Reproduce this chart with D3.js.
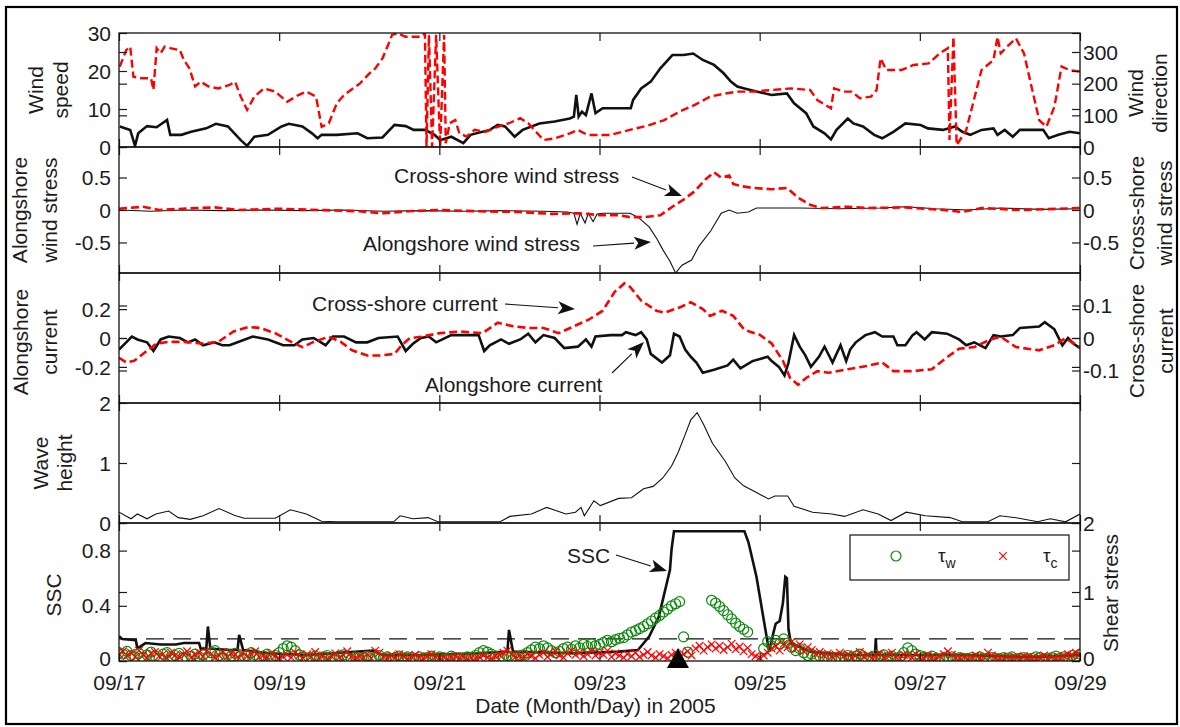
<!DOCTYPE html>
<html><head><meta charset="utf-8">
<script src="https://cdn.jsdelivr.net/npm/d3@7"></script>
<style>
body{margin:0;background:#fff}
text{font-family:"Liberation Sans",Arial,sans-serif;fill:#1c1c1c}
.tk text{font-size:21px;font-family:"Liberation Sans",Arial,sans-serif;fill:#1c1c1c}
.tk line{stroke:#1c1c1c;stroke-width:1.2}
</style>
</head><body>
<svg id="c" width="1180" height="727"></svg>
<script>
// ---- Time axis (day of September 2005) ----
const dateTicks = [17, 19, 21, 23, 25, 27, 29];
const dateLabels = ["09/17", "09/19", "09/21", "09/23", "09/25", "09/27", "09/29"];

// ---- Panel 1: wind speed (m/s) and wind direction (deg) ----
const windSpeed = [[17.01,5.4],[17.14,4.5],[17.20,0.3],[17.24,3.6],[17.35,5.5],[17.47,5.2],[17.60,7.1],[17.64,3.2],[17.78,3.2],[17.90,4.0],[18.09,4.9],[18.21,6.1],[18.36,5.4],[18.52,1.8],[18.60,0.3],[18.69,2.7],[18.86,3.2],[19.03,5.4],[19.12,6.1],[19.29,5.4],[19.41,3.6],[19.48,2.3],[19.53,3.2],[19.72,3.2],[19.98,3.6],[20.10,2.3],[20.29,2.5],[20.44,5.8],[20.58,5.5],[20.68,4.5],[20.82,4.5],[20.94,3.2],[21.01,1.8],[21.15,2.7],[21.30,1.0],[21.39,3.2],[21.63,4.5],[21.73,5.8],[21.82,5.4],[21.94,2.7],[22.04,4.5],[22.25,6.2],[22.44,6.7],[22.63,7.5],[22.68,8.0],[22.71,13.7],[22.74,8.0],[22.78,9.3],[22.83,8.4],[22.90,14.1],[22.95,8.9],[23.04,10.2],[23.39,10.2],[23.42,12.4],[23.52,15.4],[23.64,17.2],[23.76,20.7],[23.91,24.2],[24.05,24.2],[24.17,24.6],[24.29,22.9],[24.43,21.6],[24.55,19.4],[24.64,17.2],[24.72,15.9],[24.81,15.4],[24.96,14.6],[25.15,13.7],[25.34,14.1],[25.43,11.5],[25.58,8.9],[25.67,5.4],[25.81,3.6],[25.89,2.0],[25.96,4.5],[26.10,7.5],[26.17,6.2],[26.29,5.4],[26.43,3.2],[26.53,2.3],[26.67,4.0],[26.82,6.2],[27.01,5.8],[27.10,4.9],[27.29,4.5],[27.44,5.4],[27.53,4.0],[27.63,3.2],[27.77,4.5],[27.92,4.9],[27.97,3.2],[28.06,4.5],[28.16,2.7],[28.25,4.5],[28.54,4.5],[28.61,2.3],[28.73,3.2],[28.87,4.0],[29.0,3.6]];
const windDir = [[17.01,254],[17.09,306],[17.14,317],[17.18,222],[17.28,217],[17.40,217],[17.43,180],[17.47,312],[17.52,296],[17.57,317],[17.64,312],[17.76,306],[17.81,275],[17.88,248],[17.95,191],[18.02,206],[18.12,191],[18.24,185],[18.38,196],[18.45,206],[18.52,159],[18.60,117],[18.69,159],[18.81,185],[18.95,175],[19.10,143],[19.24,164],[19.34,175],[19.46,159],[19.53,64],[19.62,75],[19.72,138],[19.81,164],[20.01,201],[20.13,233],[20.20,248],[20.29,280],[20.36,322],[20.41,354],[20.48,359],[20.58,348],[20.77,348],[20.82,359],[20.84,1],[20.87,354],[20.91,1],[20.96,354],[21.01,1],[21.06,354],[21.08,12],[21.13,75],[21.20,85],[21.25,43],[21.34,33],[21.44,54],[21.58,48],[21.73,64],[21.87,75],[22.01,91],[22.11,75],[22.30,22],[22.44,27],[22.63,43],[22.73,54],[22.85,38],[23.00,38],[23.14,38],[23.28,48],[23.38,54],[23.62,69],[23.81,85],[24.00,112],[24.19,133],[24.38,159],[24.57,169],[24.72,175],[24.91,175],[25.15,180],[25.39,185],[25.63,180],[25.72,148],[25.89,122],[25.93,185],[26.05,175],[26.15,175],[26.25,154],[26.39,159],[26.46,180],[26.51,280],[26.58,243],[26.77,243],[26.92,259],[27.11,264],[27.25,296],[27.35,312],[27.37,22],[27.42,348],[27.46,6],[27.58,54],[27.77,243],[27.92,275],[27.97,348],[28.01,296],[28.11,322],[28.20,343],[28.30,296],[28.49,85],[28.58,64],[28.68,127],[28.77,254],[28.87,243],[29.0,238]];
const speedTicks = [0, 10, 20, 30];
const dirTicks = [0, 100, 200, 300];

// ---- Panel 2: wind stress ----
const alongWindStress = [[17.0,0.0],[17.4,-0.02],[17.8,0.0],[18.3,-0.01],[18.8,0.0],[19.3,-0.01],[19.8,0.0],[20.3,-0.02],[20.8,-0.01],[21.3,-0.02],[21.8,-0.01],[22.3,-0.02],[22.6,-0.03],[22.68,-0.05],[22.72,-0.22],[22.76,-0.05],[22.82,-0.20],[22.86,-0.05],[22.92,-0.18],[22.97,-0.06],[23.04,-0.05],[23.38,-0.05],[23.48,-0.11],[23.62,-0.26],[23.72,-0.45],[23.79,-0.61],[23.88,-0.79],[23.95,-0.97],[24.03,-0.85],[24.15,-0.77],[24.24,-0.56],[24.39,-0.32],[24.52,-0.05],[24.62,0.0],[24.72,-0.05],[24.86,-0.03],[24.96,0.03],[25.5,0.03],[26.0,0.02],[26.5,0.03],[26.82,0.05],[27.2,0.02],[27.6,0.0],[28.0,0.03],[28.5,0.01],[29.0,0.02]];
const crossWindStress = [[17.0,0.02],[17.3,0.05],[17.5,0.0],[17.8,0.02],[18.2,0.04],[18.5,0.0],[19.0,0.02],[19.5,0.0],[20.0,-0.02],[20.3,-0.05],[20.6,-0.02],[21.0,0.0],[21.5,-0.02],[22.0,-0.03],[22.4,-0.06],[22.76,-0.05],[23.00,-0.08],[23.24,-0.08],[23.38,-0.11],[23.57,-0.11],[23.76,-0.08],[23.91,0.05],[24.05,0.16],[24.19,0.29],[24.33,0.48],[24.43,0.58],[24.52,0.50],[24.62,0.53],[24.67,0.40],[24.76,0.37],[24.91,0.34],[25.15,0.32],[25.34,0.34],[25.48,0.19],[25.63,0.08],[25.77,0.03],[26.10,0.05],[26.34,0.03],[26.82,0.04],[27.29,0.0],[27.53,-0.03],[27.77,0.03],[28.25,0.0],[29.0,0.03]];
const stressTicks = [-0.5, 0, 0.5];

// ---- Panel 3: currents ----
const alongCurrent = [[17.0,-0.08],[17.09,-0.03],[17.16,0.01],[17.23,-0.01],[17.35,-0.03],[17.43,-0.09],[17.52,-0.01],[17.62,0.01],[17.76,0.0],[17.86,-0.03],[17.95,-0.01],[18.05,-0.05],[18.19,-0.03],[18.29,-0.05],[18.38,-0.05],[18.48,-0.03],[18.67,0.01],[18.86,-0.01],[19.05,-0.05],[19.19,-0.05],[19.29,-0.01],[19.43,0.0],[19.58,-0.05],[19.67,0.01],[19.81,0.01],[19.96,-0.03],[20.10,-0.03],[20.24,0.0],[20.48,0.01],[20.58,-0.09],[20.67,-0.04],[20.77,0.0],[20.87,0.01],[20.96,-0.03],[21.15,0.02],[21.49,0.02],[21.56,-0.09],[21.63,-0.05],[21.77,-0.01],[21.87,-0.04],[22.01,-0.01],[22.11,0.03],[22.20,-0.03],[22.30,0.02],[22.44,0.0],[22.56,-0.07],[22.73,-0.06],[22.83,-0.01],[22.90,-0.06],[22.95,0.01],[23.14,0.02],[23.28,0.02],[23.33,0.04],[23.45,0.02],[23.52,0.04],[23.59,-0.01],[23.64,-0.11],[23.78,-0.17],[23.88,-0.12],[23.93,0.03],[24.00,0.01],[24.07,-0.08],[24.14,-0.13],[24.21,-0.17],[24.29,-0.24],[24.43,-0.22],[24.60,-0.19],[24.67,-0.15],[24.76,-0.21],[24.91,-0.16],[25.10,-0.13],[25.15,-0.16],[25.24,-0.20],[25.31,-0.26],[25.36,-0.17],[25.43,0.02],[25.50,-0.06],[25.57,-0.12],[25.64,-0.20],[25.74,-0.13],[25.81,-0.06],[25.91,-0.17],[26.01,-0.05],[26.08,-0.16],[26.13,-0.08],[26.20,-0.03],[26.32,0.02],[26.44,0.04],[26.53,0.01],[26.67,0.01],[26.72,-0.05],[26.82,-0.05],[26.91,0.02],[26.96,0.04],[27.06,-0.01],[27.15,0.04],[27.34,0.03],[27.49,-0.01],[27.58,-0.05],[27.68,-0.03],[27.82,-0.07],[27.92,0.02],[28.01,0.01],[28.16,0.02],[28.25,0.07],[28.49,0.08],[28.56,0.11],[28.68,0.06],[28.78,-0.05],[28.85,0.0],[28.92,-0.04],[29.0,-0.07]];
const crossCurrent = [[17.0,-0.061],[17.09,-0.075],[17.19,-0.07],[17.33,-0.043],[17.47,-0.017],[17.62,-0.012],[17.81,-0.012],[18.05,-0.017],[18.24,-0.012],[18.43,0.02],[18.62,0.034],[18.76,0.031],[18.95,0.015],[19.15,-0.012],[19.29,-0.028],[19.43,-0.012],[19.62,0.004],[19.77,-0.012],[19.91,-0.038],[20.10,-0.054],[20.25,-0.054],[20.44,-0.049],[20.53,-0.022],[20.63,-0.001],[20.77,0.004],[21.01,0.015],[21.25,0.02],[21.54,0.015],[21.73,0.047],[21.92,0.036],[22.11,0.031],[22.30,0.031],[22.49,0.015],[22.68,0.036],[22.87,0.057],[23.04,0.084],[23.19,0.142],[23.31,0.168],[23.38,0.158],[23.52,0.115],[23.71,0.084],[23.81,0.078],[24.00,0.094],[24.14,0.11],[24.29,0.089],[24.38,0.068],[24.53,0.084],[24.67,0.068],[24.81,0.025],[25.00,0.01],[25.15,-0.017],[25.29,-0.07],[25.38,-0.123],[25.48,-0.144],[25.58,-0.123],[25.72,-0.102],[25.86,-0.107],[26.10,-0.096],[26.34,-0.086],[26.53,-0.075],[26.67,-0.102],[26.91,-0.102],[27.15,-0.096],[27.34,-0.059],[27.49,-0.033],[27.68,-0.028],[27.87,-0.006],[28.01,0.004],[28.20,-0.028],[28.49,-0.038],[28.68,-0.022],[28.82,-0.001],[29.0,-0.028]];
const alongCurTicks = [-0.2, 0, 0.2];
const crossCurTicks = [-0.1, 0, 0.1];

// ---- Panel 4: significant wave height (m) ----
const waveHeight = [[17.0,0.18],[17.15,0.07],[17.23,0.15],[17.35,0.07],[17.46,0.15],[17.62,0.2],[17.74,0.09],[17.89,0.06],[18.05,0.12],[18.25,0.24],[18.44,0.13],[18.56,0.08],[18.95,0.08],[19.14,0.22],[19.34,0.15],[19.53,0.03],[19.73,0.02],[20.43,0.02],[20.51,0.12],[20.67,0.07],[20.86,0.09],[20.98,0.02],[21.76,0.02],[21.88,0.11],[22.15,0.15],[22.34,0.26],[22.58,0.15],[22.70,0.18],[22.77,0.26],[22.81,0.12],[22.93,0.37],[23.01,0.29],[23.24,0.41],[23.40,0.42],[23.55,0.57],[23.67,0.61],[23.79,0.75],[23.90,0.95],[23.98,1.17],[24.06,1.44],[24.14,1.72],[24.22,1.84],[24.30,1.64],[24.41,1.33],[24.57,1.03],[24.69,0.75],[24.80,0.62],[24.96,0.51],[25.11,0.40],[25.19,0.45],[25.35,0.45],[25.43,0.28],[25.66,0.18],[25.90,0.15],[26.06,0.11],[26.29,0.22],[26.48,0.15],[26.64,0.04],[26.83,0.18],[27.07,0.12],[27.38,0.09],[27.53,0.02],[27.85,0.02],[28.00,0.12],[28.24,0.08],[28.47,0.02],[28.63,0.07],[28.82,0.02],[29.0,0.15]];
const waveTicks = [0, 1, 2];

// ---- Panel 5: suspended sediment concentration and bed shear stress ----
const ssc = [[17.0,0.18],[17.04,0.16],[17.21,0.15],[17.23,0.09],[17.33,0.13],[17.52,0.12],[17.71,0.12],[17.81,0.13],[18.0,0.13],[18.02,0.09],[18.09,0.09],[18.11,0.25],[18.14,0.09],[18.38,0.08],[18.48,0.08],[18.50,0.19],[18.55,0.08],[18.86,0.056],[19.34,0.044],[20.17,0.075],[20.29,0.044],[20.77,0.044],[21.49,0.056],[21.85,0.068],[21.87,0.225],[21.92,0.068],[22.68,0.056],[23.24,0.068],[23.48,0.08],[23.62,0.177],[23.74,0.32],[23.81,0.49],[23.88,0.66],[23.90,0.81],[23.93,0.94],[24.81,0.94],[24.86,0.86],[24.96,0.61],[25.10,0.13],[25.12,0.068],[25.17,0.2],[25.20,0.27],[25.25,0.29],[25.29,0.42],[25.32,0.61],[25.34,0.6],[25.36,0.23],[25.39,0.13],[25.63,0.068],[26.10,0.044],[26.44,0.044],[26.45,0.165],[26.46,0.044],[27.06,0.044],[27.53,0.044],[28.25,0.03],[28.49,0.03],[29.0,0.044]];
const sscThreshold = 0.16;
const sscTicks = [0, 0.4, 0.8];
const shearTicks = [0, 1, 2];
// shear stress samples, one every 0.05 day from 09/17 00:00
const tauStart = 17, tauStep = 0.05;
const tauWave = [
0.12,0.10,0.14,0.08,0.06,0.11,0.05,0.09,0.13,0.07,0.04,0.10,0.12,0.06,0.08,0.11,0.05,0.03,0.07,0.10,
0.06,0.09,0.04,0.12,0.15,0.08,0.05,0.10,0.07,0.11,0.06,0.04,0.08,0.12,0.09,0.05,0.07,0.10,0.06,0.08,
0.12,0.18,0.22,0.20,0.15,0.09,0.06,0.04,0.05,0.07,0.03,0.06,0.08,0.05,0.04,0.07,0.09,0.05,0.03,0.06,
0.05,0.04,0.07,0.03,0.05,0.08,0.04,0.06,0.03,0.05,0.07,0.04,0.06,0.05,0.03,0.06,0.04,0.05,0.07,0.04,
0.06,0.05,0.04,0.07,0.05,0.03,0.04,0.06,0.05,0.08,0.12,0.15,0.13,0.10,0.07,0.05,0.06,0.08,0.06,0.05,
0.07,0.09,0.12,0.16,0.20,0.18,0.22,0.19,0.15,0.12,0.14,0.18,0.20,0.17,0.22,0.19,0.24,0.21,0.25,0.22,
0.24,0.27,0.30,0.28,0.31,0.33,0.34,0.38,0.42,0.44,0.47,0.50,0.54,0.58,0.62,0.66,0.71,0.75,0.80,0.83,
0.86,0.35,0.13,null,null,null,null,null,0.88,0.84,0.79,0.73,0.67,0.61,0.55,0.50,0.46,0.42,null,null,
null,0.18,0.28,0.22,0.30,0.25,0.32,0.26,0.20,0.15,0.18,0.12,0.08,0.10,0.05,0.07,0.04,0.06,0.03,0.05,
0.04,0.06,0.08,0.05,0.07,0.10,0.06,0.04,0.05,0.08,0.06,0.09,0.05,0.07,0.04,0.06,0.12,0.19,0.15,0.10,
0.08,0.06,0.05,0.07,0.04,0.03,0.05,0.04,0.06,0.03,0.05,0.04,0.03,0.05,0.04,0.06,0.04,0.03,0.05,0.04,
0.03,0.05,0.04,0.06,0.03,0.04,0.05,0.03,0.04,0.06,0.05,0.03,0.04,0.05,0.07,0.04,0.06,0.05,0.08,0.06,
0.10];
const tauCurrent = [
0.10,0.14,0.08,0.12,0.06,0.15,0.09,0.05,0.11,0.13,0.07,0.10,0.04,0.12,0.08,0.06,0.10,0.14,0.05,0.09,
0.12,0.07,0.15,0.10,0.05,0.08,0.13,0.06,0.11,0.09,0.04,0.12,0.07,0.10,0.14,0.06,0.08,0.05,0.11,0.07,
0.04,0.06,0.09,0.05,0.12,0.08,0.04,0.10,0.06,0.13,0.05,0.08,0.03,0.07,0.11,0.05,0.09,0.14,0.06,0.04,
0.07,0.05,0.10,0.04,0.15,0.12,0.06,0.04,0.08,0.05,0.10,0.07,0.03,0.06,0.09,0.05,0.04,0.07,0.10,0.06,
0.04,0.06,0.03,0.05,0.07,0.04,0.06,0.03,0.05,0.04,0.06,0.08,0.05,0.04,0.07,0.09,0.12,0.15,0.10,0.06,
0.08,0.05,0.10,0.07,0.04,0.09,0.12,0.06,0.10,0.14,0.08,0.05,0.11,0.15,0.09,0.12,0.07,0.10,0.14,0.08,
0.12,0.09,0.15,0.06,0.11,0.08,0.05,0.10,0.07,0.12,0.06,0.09,0.13,0.08,0.05,0.10,0.07,0.04,0.09,0.12,
0.06,0.10,0.14,0.08,0.18,0.22,0.15,0.20,0.24,0.18,0.22,0.16,0.20,0.25,0.17,0.21,0.14,0.19,0.10,0.07,
0.05,0.08,0.12,0.18,0.22,0.15,0.25,0.20,0.28,0.18,0.24,0.14,0.20,0.16,0.10,0.13,0.08,0.11,0.06,0.09,
0.12,0.07,0.10,0.05,0.08,0.13,0.06,0.09,0.04,0.07,0.11,0.05,0.08,0.12,0.06,0.04,0.09,0.07,0.05,0.10,
0.06,0.04,0.08,0.05,0.03,0.07,0.10,0.14,0.09,0.05,0.04,0.06,0.03,0.05,0.08,0.04,0.06,0.12,0.08,0.05,
0.04,0.03,0.06,0.04,0.05,0.03,0.07,0.05,0.04,0.03,0.05,0.08,0.04,0.06,0.03,0.05,0.07,0.10,0.08,0.12,
0.09];
// sampling event marker
const eventDays = [23.98];

// ---- Layout ----
const X0 = 119, X1 = 1080;
const bands = [[33,147],[147,273],[273,403],[403,523],[523,661]];
const RED = "#ff0000", GREEN = "#0b8a0b", BLACK = "#111";

const svg = d3.select("#c");
svg.append("rect").attr("x",6).attr("y",7).attr("width",1171).attr("height",717)
   .attr("fill","#fff").attr("stroke","#000").attr("stroke-width",2.2);

const x = d3.scaleLinear().domain([17,29]).range([X0,X1]);

const defs = svg.append("defs");
bands.forEach((b,i) => {
  defs.append("clipPath").attr("id","clip"+i).append("rect")
    .attr("x",X0).attr("y",b[0]).attr("width",X1-X0).attr("height",b[1]-b[0]);
});

// y ticks drawn inward; the zero label of the bottom panel sits a little higher
function yTicks(scale, values, side, withLabels, liftZero) {
  const ax = (side === "left" ? d3.axisLeft(scale) : d3.axisRight(scale))
    .tickValues(values).tickSizeInner(-8).tickSizeOuter(0)
    .tickPadding(side === "left" ? 8 : 3)
    .tickFormat(withLabels ? (d => String(d)) : "");
  const g = svg.append("g").attr("class","tk")
    .attr("transform", `translate(${side === "left" ? X0 : X1},0)`).call(ax);
  g.select(".domain").remove();
  g.selectAll("text").attr("dy", d => (liftZero && d === 0) ? "0.22em" : "0.34em");
}

function xTicks(i, withLabels) {
  const [top, bottom] = bands[i];
  const axB = d3.axisBottom(x).tickValues(dateTicks).tickSizeInner(-8).tickSizeOuter(0)
    .tickPadding(14).tickFormat(withLabels ? ((d,k) => dateLabels[k]) : "");
  const gb = svg.append("g").attr("class","tk").attr("transform",`translate(0,${bottom})`).call(axB);
  gb.select(".domain").remove();
  const axT = d3.axisTop(x).tickValues(dateTicks).tickSizeInner(-8).tickSizeOuter(0).tickFormat("");
  const gt = svg.append("g").attr("class","tk").attr("transform",`translate(0,${top})`).call(axT);
  gt.select(".domain").remove();
}

function frame(i) {
  const [top, bottom] = bands[i];
  svg.append("rect").attr("x",X0).attr("y",top).attr("width",X1-X0).attr("height",bottom-top)
    .attr("fill","none").attr("stroke","#111").attr("stroke-width",1.3);
}

function series(i, data, y, color, width, dash) {
  const line = d3.line().defined(d => d[1] != null).x(d => x(d[0])).y(d => y(d[1]));
  svg.append("path").datum(data).attr("clip-path",`url(#clip${i})`)
    .attr("d", line).attr("fill","none").attr("stroke",color).attr("stroke-width",width)
    .attr("stroke-linejoin","miter").attr("stroke-dasharray", dash || null);
}

function yLabel(lines, cy) {
  lines.forEach(([txt, bx]) => {
    svg.append("text").attr("transform",`translate(${bx},${cy}) rotate(-90)`)
      .attr("text-anchor","middle").attr("font-size",21).text(txt);
  });
}

function note(txt, tx, ty, from, to) {
  svg.append("text").attr("x",tx).attr("y",ty).attr("font-size",21).text(txt);
  const ang = Math.atan2(to[1]-from[1], to[0]-from[0]);
  const L = 17, W = 6.5;
  const bx = to[0] - L*Math.cos(ang), by = to[1] - L*Math.sin(ang);
  svg.append("line").attr("x1",from[0]).attr("y1",from[1]).attr("x2",bx).attr("y2",by)
    .attr("stroke","#111").attr("stroke-width",1.1);
  const px = -Math.sin(ang)*W, py = Math.cos(ang)*W;
  svg.append("path").attr("d",`M${to[0]},${to[1]}L${bx+px},${by+py}L${bx+L*0.25*Math.cos(ang)},${by+L*0.25*Math.sin(ang)}L${bx-px},${by-py}Z`)
    .attr("fill","#111");
}

const DASH = "8,4";

// ---- Panel 1 ----
const ySpeed = d3.scaleLinear().domain([0,30]).range([bands[0][1], bands[0][0]]);
const yDir = d3.scaleLinear().domain([0,360]).range([bands[0][1], bands[0][0]]);
series(0, windSpeed, ySpeed, BLACK, 2.6);
series(0, windDir, yDir, RED, 2.4, DASH);
yTicks(ySpeed, speedTicks, "left", true); yTicks(yDir, dirTicks, "left", false);
yTicks(yDir, dirTicks, "right", true); yTicks(ySpeed, speedTicks, "right", false);
xTicks(0, false); frame(0);
yLabel([["Wind",43],["speed",68]], 90);
yLabel([["Wind",1143],["direction",1167]], 93);

// ---- Panel 2 ----
const yStress = d3.scaleLinear().domain([-0.97,0.97]).range([bands[1][1], bands[1][0]]);
series(1, alongWindStress, yStress, BLACK, 1.1);
series(1, crossWindStress, yStress, RED, 2.6, DASH);
yTicks(yStress, stressTicks, "left", true); yTicks(yStress, stressTicks, "right", true);
xTicks(1, false); frame(1);
yLabel([["Alongshore",27],["wind stress",57]], 210);
yLabel([["Cross-shore",1144],["wind stress",1172]], 213);
note("Cross-shore wind stress", 394, 183, [632,177], [682,196]);
note("Alongshore wind stress", 363, 251, [593,246], [651,242]);

// ---- Panel 3 ----
const yAlongCur = d3.scaleLinear().domain([-0.45,0.45]).range([bands[2][1], bands[2][0]]);
const yCrossCur = d3.scaleLinear().domain([-0.2,0.2]).range([bands[2][1], bands[2][0]]);
series(2, alongCurrent, yAlongCur, BLACK, 2.6);
series(2, crossCurrent, yCrossCur, RED, 2.6, DASH);
yTicks(yAlongCur, alongCurTicks, "left", true); yTicks(yCrossCur, crossCurTicks, "left", false);
yTicks(yCrossCur, crossCurTicks, "right", true); yTicks(yAlongCur, alongCurTicks, "right", false);
xTicks(2, false); frame(2);
yLabel([["Alongshore",28],["current",57]], 342);
yLabel([["Cross-shore",1144],["current",1173]], 341);
note("Cross-shore current", 312, 311, [505,304], [575,309]);
note("Alongshore current", 425, 392, [612,373], [644,342]);

// ---- Panel 4 ----
const yWave = d3.scaleLinear().domain([0,2]).range([bands[3][1], bands[3][0]]);
series(3, waveHeight, yWave, BLACK, 1.1);
yTicks(yWave, waveTicks, "left", true); yTicks(yWave, waveTicks, "right", false);
xTicks(3, false); frame(3);
yLabel([["Wave",48],["height",72]], 463);

// ---- Panel 5 ----
const ySSC = d3.scaleLinear().domain([0,1]).range([bands[4][1], bands[4][0]]);
const yShear = d3.scaleLinear().domain([0,2]).range([bands[4][1], bands[4][0]]);
svg.append("line").attr("x1",X0).attr("x2",X1).attr("y1",ySSC(sscThreshold)).attr("y2",ySSC(sscThreshold))
  .attr("stroke","#111").attr("stroke-width",1.3).attr("stroke-dasharray","18,9");
series(4, ssc, ySSC, BLACK, 2.6);
const tauW = tauWave.map((v,k) => [tauStart + k*tauStep, v]).filter(d => d[1] != null);
const tauC = tauCurrent.map((v,k) => [tauStart + k*tauStep, v]).filter(d => d[1] != null);
const pg = svg.append("g").attr("clip-path","url(#clip4)");
pg.selectAll("circle").data(tauW).join("circle")
  .attr("cx", d => x(d[0])).attr("cy", d => yShear(d[1])).attr("r",5)
  .attr("fill","none").attr("stroke",GREEN).attr("stroke-width",1.2);
const xs = 3.8;
pg.selectAll("path.cross").data(tauC).join("path").attr("class","cross")
  .attr("d", d => { const cx = x(d[0]), cy = yShear(d[1]);
    return `M${cx-xs},${cy-xs}L${cx+xs},${cy+xs}M${cx-xs},${cy+xs}L${cx+xs},${cy-xs}`; })
  .attr("stroke",RED).attr("stroke-width",1.2);
svg.selectAll("path.event").data(eventDays).join("path").attr("class","event")
  .attr("d", d => { const cx = x(d), b = ySSC(0); return `M${cx-11},${b+7}L${cx},${b-13}L${cx+11},${b+7}Z`; })
  .attr("fill","#000");
yTicks(ySSC, sscTicks, "left", true, true); yTicks(yShear, shearTicks, "left", false);
yTicks(yShear, shearTicks, "right", true, true); yTicks(ySSC, sscTicks, "right", false);
xTicks(4, true); frame(4);
yLabel([["SSC",61]], 595);
yLabel([["Shear stress",1118]], 593);
note("SSC", 567, 563, [616,555], [667,571]);

// legend
const lg = svg.append("g");
lg.append("rect").attr("x",850).attr("y",535).attr("width",219).attr("height",45)
  .attr("fill","#fff").attr("stroke","#111").attr("stroke-width",1.2);
lg.append("circle").attr("cx",896).attr("cy",556).attr("r",5).attr("fill","none").attr("stroke",GREEN).attr("stroke-width",1.2);
lg.append("path").attr("d",`M${1003-xs},${556-xs}L${1003+xs},${556+xs}M${1003-xs},${556+xs}L${1003+xs},${556-xs}`)
  .attr("stroke",RED).attr("stroke-width",1.2);
[["τ","w",938],["τ","c",1043]].forEach(([s,sub,lx]) => {
  const t = lg.append("text").attr("x",lx).attr("y",562).attr("font-size",19);
  t.append("tspan").text(s);
  t.append("tspan").attr("dy",6).attr("font-size",14).text(sub);
});

// x-axis title
svg.append("text").attr("x",(X0+X1)/2 - 4).attr("y",713).attr("text-anchor","middle")
  .attr("font-size",21).text("Date (Month/Day) in 2005");
</script>
</body></html>
